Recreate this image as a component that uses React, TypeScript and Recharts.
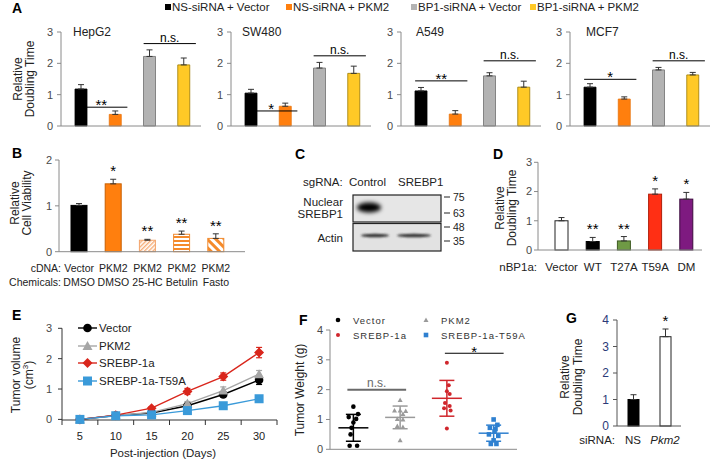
import React from "react";
import {
  BarChart,
  Bar,
  XAxis,
  YAxis,
  ErrorBar,
  Cell,
  ReferenceLine,
  LineChart,
  Line,
  ComposedChart,
  Scatter,
} from "recharts";

const FONT = '"Liberation Sans", Arial, Helvetica, sans-serif';
const W = 713;
const H = 460;
const AXIS = "#8a8a8a";
const TICK = "#4a4a4a";

// ---------- A: doubling time per cell line ----------
const aConditions = ["NS-siRNA + Vector", "NS-siRNA + PKM2", "BP1-siRNA + Vector", "BP1-siRNA + PKM2"];
const aCellLines = ["HepG2", "SW480", "A549", "MCF7"];
const hepg2Mean = [1.18, 0.37, 2.22, 1.95];
const hepg2Err = [0.14, 0.11, 0.21, 0.22];
const sw480Mean = [1.05, 0.63, 1.85, 1.68];
const sw480Err = [0.12, 0.1, 0.18, 0.23];
const a549Mean = [1.12, 0.38, 1.6, 1.24];
const a549Err = [0.11, 0.11, 0.1, 0.19];
const mcf7Mean = [1.24, 0.86, 1.79, 1.63];
const mcf7Err = [0.11, 0.07, 0.08, 0.08];
const aLeftSig = ["**", "*", "**", "*"];
const aLeftSigY = [0.6, 0.48, 1.44, 1.49];
const aRightSigY = [2.63, 2.24, 2.08, 2.08];
const aTicks = [0, 1, 2, 3];

// ---------- B: cell viability ----------
const bCdna = ["Vector", "PKM2", "PKM2", "PKM2", "PKM2"];
const bChem = ["DMSO", "DMSO", "25-HC", "Betulin", "Fasto"];
const bMean = [1.01, 1.48, 0.25, 0.38, 0.29];
const bErr = [0.04, 0.1, 0.02, 0.07, 0.1];
const bSig = ["", "*", "**", "**", "**"];
const bTicks = [0, 1, 2];

// ---------- C: blot ----------
const cMarkers = ["75", "63", "48", "35"];

// ---------- D: nBP1a mutants ----------
const dVariants = ["Vector", "WT", "T27A", "T59A", "DM"];
const dMean = [1.0, 0.29, 0.31, 1.91, 1.74];
const dErr = [0.11, 0.14, 0.15, 0.18, 0.23];
const dSig = ["", "**", "**", "*", "*"];
const dTicks = [0, 1, 2, 3];

// ---------- E: tumor volume ----------
const eSeries = ["Vector", "PKM2", "SREBP-1a", "SREBP-1a-T59A"];
const eDays = [5, 10, 15, 20, 25, 30];
const eVector = [0.0, 0.13, 0.21, 0.45, 0.82, 1.3];
const eVectorErr = [0.02, 0.03, 0.03, 0.05, 0.07, 0.15];
const ePkm2 = [0.0, 0.13, 0.23, 0.52, 0.95, 1.49];
const ePkm2Err = [0.02, 0.03, 0.04, 0.07, 0.12, 0.12];
const eSrebp = [0.0, 0.14, 0.37, 0.92, 1.41, 2.2];
const eSrebpErr = [0.02, 0.03, 0.05, 0.1, 0.12, 0.17];
const eT59a = [0.0, 0.12, 0.15, 0.29, 0.45, 0.68];
const eT59aErr = [0.02, 0.02, 0.03, 0.04, 0.05, 0.07];
const eTicks = [0, 1, 2, 3];

// ---------- F: tumor weight ----------
const fVector = [1.43, 1.18, 1.08, 1.02, 0.9, 0.72, 0.5, 0.12, 0.12];
const fVectorJit = [0.0, 0.1, -0.1, 0.06, 0.0, -0.04, -0.06, -0.08, 0.08];
const fPkm2 = [1.65, 1.3, 1.3, 1.28, 1.18, 1.02, 1.0, 0.78, 0.75, 0.3];
const fPkm2Jit = [0.0, -0.12, 0.0, 0.12, 0.06, -0.06, 0.06, -0.06, 0.06, 0.0];
const fSrebp = [2.9, 2.15, 1.95, 1.85, 1.55, 1.45, 1.38, 1.3, 0.7];
const fSrebpJit = [0.0, 0.04, 0.0, 0.06, -0.04, 0.06, -0.06, 0.08, 0.0];
const fT59a = [1.0, 0.82, 0.72, 0.68, 0.6, 0.5, 0.45, 0.3, 0.18, 0.18];
const fT59aJit = [0.0, 0.08, -0.08, 0.04, 0.02, -0.1, 0.1, 0.0, -0.06, 0.06];
const fMean = [0.72, 1.07, 1.71, 0.54];
const fSd = [0.45, 0.38, 0.6, 0.27];
const fTicks = [0, 1, 2, 3, 4];

// ---------- G: Pkm2 siRNA ----------
const gSirna = ["NS", "Pkm2"];
const gMean = [1.0, 3.37];
const gErr = [0.18, 0.29];
const gSig = ["", "*"];
const gTicks = [0, 1, 2, 3, 4];

// colours
const aFill = ["#000000", "#ff7f0e", "#b3b3b3", "#ffc926"];
const aStroke = ["#000000", "#e8730c", "#6f6f6f", "#9c7b00"];
const bFill = ["#000000", "#ff7f0e", "url(#pat25hc)", "url(#patBetulin)", "url(#patFasto)"];
const bStroke = ["#000000", "#c85f00", "#f3a46a", "#f08a30", "#f08a30"];
const dFill = ["#ffffff", "#000000", "#6f9a45", "#ff2f14", "#7e1a80"];
const dStroke = ["#222222", "#000000", "#3d5a22", "#b01e0a", "#3c0a3d"];
const gFill = ["#000000", "#ffffff"];
const gStroke = ["#000000", "#222222"];
const eColors = ["#000000", "#a6a6a6", "#d9261c", "#3a9ad9"];
const fColors = ["#000000", "#9a9a9a", "#d0262c", "#2f80d0"];

// plot frames: axis left, axis right, top of domain, zero line
const aX0 = [61, 231, 401, 570];
const aWidth = 140;
const aTop = 32;
const aBottom = 126;
const bFrame = { x0: 59, x1: 245, top: 160, bottom: 251.7 };
const dFrame = { x0: 538, x1: 702, top: 162.3, bottom: 250 };
const eFrame = { x0: 62, x1: 277, top: 328.3, bottom: 420 };
const fFrame = { x0: 330, x1: 517, top: 330, bottom: 449.3 };
const gFrame = { x0: 617, x1: 681, top: 320, bottom: 426 };

const frame = (x0: number, x1: number, top: number, bottom: number, yw: number, xh: number) => ({
  left: x0 - yw,
  right: W - x1,
  top,
  bottom: H - bottom - xh,
});

const tickStyle = { fontSize: 11, fill: TICK, fontFamily: FONT };

function Overlay({ children }: { children: React.ReactNode }) {
  return <div style={{ position: "absolute", left: 0, top: 0, width: W, height: H }}>{children}</div>;
}

// significance bracket drawn on a ReferenceLine segment
const sigLine = (text: string, fs: number, dy: number, color = "#000", sw = 1, dl = 6, dr = 12) => (p: any) => {
  const xa = p.x1 - dl;
  const xb = p.x2 + dr;
  return (
    <g>
      <line x1={xa} x2={xb} y1={p.y1} y2={p.y2} stroke={color} strokeWidth={sw} />
      <text x={(xa + xb) / 2} y={p.y1 + dy} textAnchor="middle" fontSize={fs} fontFamily={FONT} fill={color}>
        {text}
      </text>
    </g>
  );
};

// bar with a star label sitting above its error bar
const starBar = (p: any) => {
  const { x, y, width, height, fill, stroke, payload } = p;
  const perUnit = payload.value ? height / payload.value : 0;
  const top = y - payload.err[1] * perUnit;
  return (
    <g>
      <rect x={x} y={y} width={width} height={height} fill={fill} stroke={stroke} strokeWidth={1} />
      {payload.sig ? (
        <text x={x + width / 2} y={top - 3} textAnchor="middle" fontSize={15} fontFamily={FONT} fill="#000">
          {payload.sig}
        </text>
      ) : null}
    </g>
  );
};

function CellLinePanel({ k }: { k: number }) {
  const means = [hepg2Mean, sw480Mean, a549Mean, mcf7Mean][k];
  const errs = [hepg2Err, sw480Err, a549Err, mcf7Err][k];
  const x0 = aX0[k];
  const rows = aConditions.map((c, i) => ({ name: c, value: means[i], err: [0, errs[i]] }));
  return (
    <Overlay>
      <BarChart width={W} height={H} data={rows} margin={frame(x0, x0 + aWidth, aTop, aBottom, 30, 20)}>
        <XAxis dataKey="name" tick={false} tickLine={false} axisLine={{ stroke: AXIS }} height={20} padding={{ left: 3, right: 0 }} />
        <YAxis
          width={30}
          domain={[0, 3]}
          ticks={aTicks}
          interval={0}
          tickSize={4}
          tickMargin={4}
          tickLine={{ stroke: AXIS }}
          axisLine={{ stroke: AXIS }}
          tick={tickStyle}
        />
        <Bar dataKey="value" barSize={12} isAnimationActive={false}>
          {rows.map((r, i) => (
            <Cell key={r.name} fill={aFill[i]} stroke={aStroke[i]} strokeWidth={0.8} />
          ))}
          <ErrorBar dataKey="err" width={3} stroke="#333" strokeWidth={1} direction="y" />
        </Bar>
        <ReferenceLine
          segment={[
            { x: aConditions[0], y: aLeftSigY[k] },
            { x: aConditions[1], y: aLeftSigY[k] },
          ]}
          shape={sigLine(aLeftSig[k], 15, 3)}
        />
        <ReferenceLine
          segment={[
            { x: aConditions[2], y: aRightSigY[k] },
            { x: aConditions[3], y: aRightSigY[k] },
          ]}
          shape={sigLine("n.s.", 12, -2)}
        />
      </BarChart>
    </Overlay>
  );
}

function ViabilityPanel() {
  const rows = bCdna.map((c, i) => ({
    name: `${c} ${bChem[i]}`,
    value: bMean[i],
    err: [0, bErr[i]],
    sig: bSig[i],
  }));
  const BTick = (p: any) => (
    <g>
      <text x={p.x} y={bFrame.bottom + 20} textAnchor="middle" fontSize={10.5} fontFamily={FONT} fill="#222">
        {bCdna[p.index]}
      </text>
      <text x={p.x} y={bFrame.bottom + 34} textAnchor="middle" fontSize={10.5} fontFamily={FONT} fill="#222">
        {bChem[p.index]}
      </text>
    </g>
  );
  return (
    <Overlay>
      <BarChart width={W} height={H} data={rows} margin={frame(bFrame.x0, bFrame.x1, bFrame.top, bFrame.bottom, 30, 20)}>
        <XAxis dataKey="name" interval={0} tickLine={false} axisLine={{ stroke: AXIS }} tick={BTick} height={20} padding={{ left: 3, right: 12 }} />
        <YAxis width={30} domain={[0, 2]} ticks={bTicks} interval={0} tickSize={4} tickMargin={3} tickLine={{ stroke: AXIS }} axisLine={{ stroke: AXIS }} tick={tickStyle} />
        <Bar dataKey="value" barSize={16} shape={starBar} isAnimationActive={false}>
          {rows.map((r, i) => (
            <Cell key={r.name} fill={bFill[i]} stroke={bStroke[i]} />
          ))}
          <ErrorBar dataKey="err" width={3} stroke="#333" strokeWidth={1} direction="y" />
        </Bar>
      </BarChart>
    </Overlay>
  );
}

function MutantPanel() {
  const rows = dVariants.map((v, i) => ({ name: v, value: dMean[i], err: [0, dErr[i]], sig: dSig[i] }));
  return (
    <Overlay>
      <BarChart width={W} height={H} data={rows} margin={frame(dFrame.x0, dFrame.x1, dFrame.top, dFrame.bottom, 30, 20)}>
        <XAxis
          dataKey="name"
          interval={0}
          tickLine={false}
          axisLine={{ stroke: AXIS }}
          height={20}
          padding={{ left: 8, right: 0 }}
          tick={(p: any) => (
            <text x={p.x} y={dFrame.bottom + 21} textAnchor="middle" fontSize={11.5} fontFamily={FONT} fill="#222">
              {p.payload.value}
            </text>
          )}
        />
        <YAxis width={30} domain={[0, 3]} ticks={dTicks} interval={0} tickSize={4} tickMargin={2} tickLine={{ stroke: AXIS }} axisLine={{ stroke: AXIS }} tick={tickStyle} />
        <Bar dataKey="value" barSize={13} shape={starBar} isAnimationActive={false}>
          {rows.map((r, i) => (
            <Cell key={r.name} fill={dFill[i]} stroke={dStroke[i]} />
          ))}
          <ErrorBar dataKey="err" width={3} stroke="#333" strokeWidth={1} direction="y" />
        </Bar>
      </BarChart>
    </Overlay>
  );
}

function PkmPanel() {
  const rows = gSirna.map((s, i) => ({ name: s, value: gMean[i], err: [0, gErr[i]], sig: gSig[i] }));
  return (
    <Overlay>
      <BarChart width={W} height={H} data={rows} margin={frame(gFrame.x0, gFrame.x1, gFrame.top, gFrame.bottom, 30, 20)}>
        <XAxis
          dataKey="name"
          interval={0}
          tickLine={false}
          axisLine={{ stroke: "#555" }}
          height={20}
          tick={(p: any) => (
            <text
              x={p.x}
              y={gFrame.bottom + 18}
              textAnchor="middle"
              fontSize={11.5}
              fontFamily={FONT}
              fontStyle={p.index === 1 ? "italic" : "normal"}
              fill="#222"
            >
              {p.payload.value}
            </text>
          )}
        />
        <YAxis
          width={30}
          domain={[0, 4]}
          ticks={gTicks}
          interval={0}
          tickSize={4}
          tickMargin={4}
          tickLine={{ stroke: "#555" }}
          axisLine={{ stroke: "#555" }}
          tick={{ ...tickStyle, fontSize: 12, fill: "#2b3a78" }}
        />
        <Bar dataKey="value" barSize={11} shape={starBar} isAnimationActive={false}>
          {rows.map((r, i) => (
            <Cell key={r.name} fill={gFill[i]} stroke={gStroke[i]} />
          ))}
          <ErrorBar dataKey="err" width={3} stroke="#333" strokeWidth={1} direction="y" />
        </Bar>
      </BarChart>
    </Overlay>
  );
}

// markers for E
const marker = (kind: number, cx: number, cy: number, color: string, key?: any) => {
  if (kind === 0) return <circle key={key} cx={cx} cy={cy} r={4.3} fill={color} />;
  if (kind === 1)
    return <polygon key={key} points={`${cx},${cy - 5} ${cx - 5},${cy + 4} ${cx + 5},${cy + 4}`} fill={color} />;
  if (kind === 2)
    return <polygon key={key} points={`${cx},${cy - 5} ${cx + 5},${cy} ${cx},${cy + 5} ${cx - 5},${cy}`} fill={color} />;
  return <rect key={key} x={cx - 4.5} y={cy - 4.5} width={9} height={9} fill={color} />;
};

function VolumePanel() {
  const rows = eDays.map((d, i) => ({
    day: d,
    vector: eVector[i],
    vectorErr: eVectorErr[i],
    pkm2: ePkm2[i],
    pkm2Err: ePkm2Err[i],
    srebp: eSrebp[i],
    srebpErr: eSrebpErr[i],
    t59a: eT59a[i],
    t59aErr: eT59aErr[i],
  }));
  const step = eDays[1] - eDays[0];
  const edges = [...eDays.map((d) => d - step / 2), eDays[eDays.length - 1] + step / 2];
  const half = (eFrame.x1 - eFrame.x0) / eDays.length / 2;
  const keys = ["vector", "pkm2", "srebp", "t59a"];
  return (
    <Overlay>
      <LineChart width={W} height={H} data={rows} margin={frame(eFrame.x0, eFrame.x1, eFrame.top, eFrame.bottom, 30, 20)}>
        <XAxis
          type="number"
          dataKey="day"
          domain={[edges[0], edges[edges.length - 1]]}
          ticks={edges}
          interval={0}
          tickSize={5}
          tickLine={{ stroke: "#333" }}
          axisLine={{ stroke: "#333" }}
          height={20}
          tick={(p: any) =>
            p.index < eDays.length ? (
              <text x={p.x + half} y={eFrame.bottom + 20} textAnchor="middle" fontSize={11} fontFamily={FONT} fill="#222">
                {eDays[p.index]}
              </text>
            ) : (
              <g />
            )
          }
        />
        <YAxis width={30} domain={[0, 3]} ticks={eTicks} interval={0} tickSize={4} tickMargin={6} tickLine={{ stroke: "#333" }} axisLine={{ stroke: "#333" }} tick={tickStyle} />
        {keys.map((k, s) => (
          <Line
            key={k}
            dataKey={k}
            stroke={eColors[s]}
            strokeWidth={1.4}
            isAnimationActive={false}
            dot={(p: any) => marker(s, p.cx, p.cy, eColors[s], `${k}-${p.index}`)}
          >
            <ErrorBar dataKey={`${k}Err`} width={3} stroke={eColors[s]} strokeWidth={1.2} direction="y" />
          </Line>
        ))}
      </LineChart>
    </Overlay>
  );
}

const fShape = (g: number) => (p: any) => {
  const { cx, cy } = p;
  const c = fColors[g];
  if (g === 0) return <circle cx={cx} cy={cy} r={2.3} fill={c} />;
  if (g === 1) return <polygon points={`${cx},${cy - 2.5} ${cx - 2.5},${cy + 2} ${cx + 2.5},${cy + 2}`} fill={c} />;
  if (g === 2) return <circle cx={cx} cy={cy} r={2} fill={c} />;
  return <rect x={cx - 2.3} y={cy - 2.3} width={4.6} height={4.6} fill={c} />;
};

const meanShape = (g: number) => (p: any) => (
  <line x1={p.cx - 15} x2={p.cx + 15} y1={p.cy} y2={p.cy} stroke={fColors[g]} strokeWidth={1.5} />
);

function WeightPanel() {
  const groups = [
    [fVector, fVectorJit],
    [fPkm2, fPkm2Jit],
    [fSrebp, fSrebpJit],
    [fT59a, fT59aJit],
  ];
  return (
    <Overlay>
      <ComposedChart width={W} height={H} margin={frame(fFrame.x0, fFrame.x1, fFrame.top, fFrame.bottom, 30, 8)}>
        <XAxis type="number" dataKey="x" domain={[-0.5, 3.5]} tick={false} tickLine={false} axisLine={{ stroke: AXIS }} height={8} />
        <YAxis type="number" dataKey="y" width={30} domain={[0, 4]} ticks={fTicks} interval={0} tickSize={4} tickMargin={3} tickLine={{ stroke: AXIS }} axisLine={{ stroke: AXIS }} tick={tickStyle} />
        {groups.map(([vals, jit], g) => (
          <Scatter
            key={`pts${g}`}
            data={vals.map((v, i) => ({ x: g + jit[i], y: v }))}
            dataKey="y"
            shape={fShape(g)}
            isAnimationActive={false}
          />
        ))}
        {fMean.map((m, g) => (
          <Scatter key={`mean${g}`} data={[{ x: g, y: m, sd: fSd[g] }]} dataKey="y" shape={meanShape(g)} isAnimationActive={false}>
            <ErrorBar dataKey="sd" width={7.5} stroke={fColors[g]} strokeWidth={1.5} direction="y" />
          </Scatter>
        ))}
        <ReferenceLine
          segment={[
            { x: 0, y: 2 },
            { x: 1, y: 2 },
          ]}
          shape={sigLine("n.s.", 12, -3, "#6a6a6a", 2, 6, 6)}
        />
        <ReferenceLine
          segment={[
            { x: 2, y: 3.22 },
            { x: 3, y: 3.22 },
          ]}
          shape={sigLine("*", 15, 4, "#000", 1, 2, 10)}
        />
      </ComposedChart>
    </Overlay>
  );
}

const txt = (x: number, y: number, s: React.ReactNode, o: any = {}) => (
  <text x={x} y={y} fontSize={11.5} fontFamily={FONT} fill="#222" {...o}>
    {s}
  </text>
);

const vtxt = (x: number, y: number, s: React.ReactNode, fs = 12) => (
  <text
    x={x}
    y={y}
    transform={`rotate(-90 ${x} ${y})`}
    textAnchor="middle"
    dominantBaseline="central"
    fontSize={fs}
    fontFamily={FONT}
    fill="#222"
  >
    {s}
  </text>
);

function Annotations() {
  const letter = (x: number, y: number, s: string) => (
    <text x={x} y={y} fontSize={14} fontWeight="bold" fontFamily={FONT} fill="#000">
      {s}
    </text>
  );
  const legendX = [165, 286, 411, 530];
  const eRowY = [328, 346, 363, 381];
  const markerY = [197, 213, 227, 241];
  return (
    <svg width={W} height={H} style={{ position: "absolute", left: 0, top: 0 }}>
      <defs>
        <pattern id="pat25hc" patternUnits="userSpaceOnUse" width="3" height="3" patternTransform="rotate(45)">
          <rect width="3" height="3" fill="#fff" />
          <rect width="1.4" height="3" fill="#f6ad77" />
        </pattern>
        <pattern id="patBetulin" patternUnits="userSpaceOnUse" width="4" height="4">
          <rect width="4" height="4" fill="#fff" />
          <rect width="4" height="2" fill="#f58a2a" />
        </pattern>
        <pattern id="patFasto" patternUnits="userSpaceOnUse" width="6" height="6" patternTransform="rotate(-45)">
          <rect width="6" height="6" fill="#fff" />
          <rect width="3" height="6" fill="#f58a2a" />
        </pattern>
        <filter id="blotBlur" x="-50%" y="-50%" width="200%" height="200%">
          <feGaussianBlur stdDeviation="2" />
        </filter>
        <filter id="bandBlur" x="-50%" y="-100%" width="200%" height="300%">
          <feGaussianBlur stdDeviation="1.2" />
        </filter>
      </defs>

      {letter(12, 12.5, "A")}
      {letter(12, 158, "B")}
      {letter(295, 159, "C")}
      {letter(493, 159, "D")}
      {letter(12, 320, "E")}
      {letter(299, 325, "F")}
      {letter(566, 323, "G")}

      {/* A legend */}
      {aConditions.map((c, i) => (
        <g key={c}>
          <rect x={legendX[i]} y={4} width={6} height={6} fill={aFill[i]} />
          {txt(legendX[i] + 7, 11, c)}
        </g>
      ))}
      {aCellLines.map((n, k) => txt(aX0[k] + [12, 11, 15, 16][k], 36, n, { key: n, fontSize: 12 }))}
      {vtxt(18, 79, "Relative")}
      {vtxt(30, 79, "Doubling Time")}

      {/* B */}
      {vtxt(15, 203, "Relative")}
      {vtxt(27, 203, "Cell Viability")}
      {txt(61, 272, "cDNA:", { textAnchor: "end", fontSize: 10.5 })}
      {txt(61, 286, "Chemicals:", { textAnchor: "end", fontSize: 10.5 })}

      {/* C blot */}
      {txt(303, 185.5, "sgRNA:")}
      {txt(349, 185.5, "Control")}
      {txt(398, 185.5, "SREBP1")}
      {txt(343, 205.5, "Nuclear", { textAnchor: "end" })}
      {txt(343, 218, "SREBP1", { textAnchor: "end" })}
      {txt(343, 241.5, "Actin", { textAnchor: "end" })}
      <rect x={353} y={195} width={88} height={27} fill="#e6e6e6" stroke="#222" strokeWidth={1.2} />
      <ellipse cx={369} cy={207.5} rx={12} ry={5} fill="#000" filter="url(#blotBlur)" />
      <rect x={353} y={223.5} width={88} height={27.5} fill="#e2e2e2" stroke="#222" strokeWidth={1.2} />
      <ellipse cx={375} cy={235.5} rx={14} ry={1.8} fill="#333" filter="url(#bandBlur)" />
      <ellipse cx={414} cy={235.5} rx={17} ry={1.8} fill="#333" filter="url(#bandBlur)" />
      {cMarkers.map((m, i) => (
        <g key={m}>
          <line x1={444} x2={450} y1={markerY[i]} y2={markerY[i]} stroke="#222" strokeWidth={1} />
          {txt(453, markerY[i] + 3.8, m, { fontSize: 10.5 })}
        </g>
      ))}

      {/* D */}
      {vtxt(500, 208, "Relative")}
      {vtxt(512, 208, "Doubling Time")}
      {txt(537, 271, "nBP1a:", { textAnchor: "end" })}

      {/* E */}
      {vtxt(16, 375, "Tumor volume")}
      {vtxt(
        29,
        375,
        <>
          (cm
          <tspan dy={-4} fontSize={8}>
            3
          </tspan>
          <tspan dy={4}>)</tspan>
        </>
      )}
      {txt(163, 456.5, "Post-injection (Days)", { textAnchor: "middle" })}
      {eSeries.map((s, i) => (
        <g key={s}>
          <line x1={78} x2={97} y1={eRowY[i]} y2={eRowY[i]} stroke={eColors[i]} strokeWidth={1.4} />
          {marker(i, 87.5, eRowY[i], eColors[i])}
          {txt(99, eRowY[i] + 4, s)}
        </g>
      ))}

      {/* F */}
      {vtxt(300, 390, "Tumor Weight (g)")}
      {eSeries.map((s, i) => {
        const mx = i % 2 === 0 ? 338 : 426;
        const my = i < 2 ? 320 : 335;
        return (
          <g key={`f${s}`}>
            {fShape(i)({ cx: mx, cy: my })}
            {txt(mx + 15, my + 3.5, s, { fontSize: 9.5, letterSpacing: 1.0, fill: "#333" })}
          </g>
        );
      })}

      {/* G */}
      {vtxt(565, 377, "Relative")}
      {vtxt(578, 377, "Doubling Time")}
      {txt(615, 444, "siRNA:", { textAnchor: "end" })}
    </svg>
  );
}

export default function App() {
  return (
    <div style={{ position: "absolute", left: 0, top: 0, width: W, height: H, background: "#fff", fontFamily: FONT }}>
      <Annotations />
      {aCellLines.map((n, k) => (
        <CellLinePanel key={n} k={k} />
      ))}
      <ViabilityPanel />
      <MutantPanel />
      <VolumePanel />
      <WeightPanel />
      <PkmPanel />
    </div>
  );
}
